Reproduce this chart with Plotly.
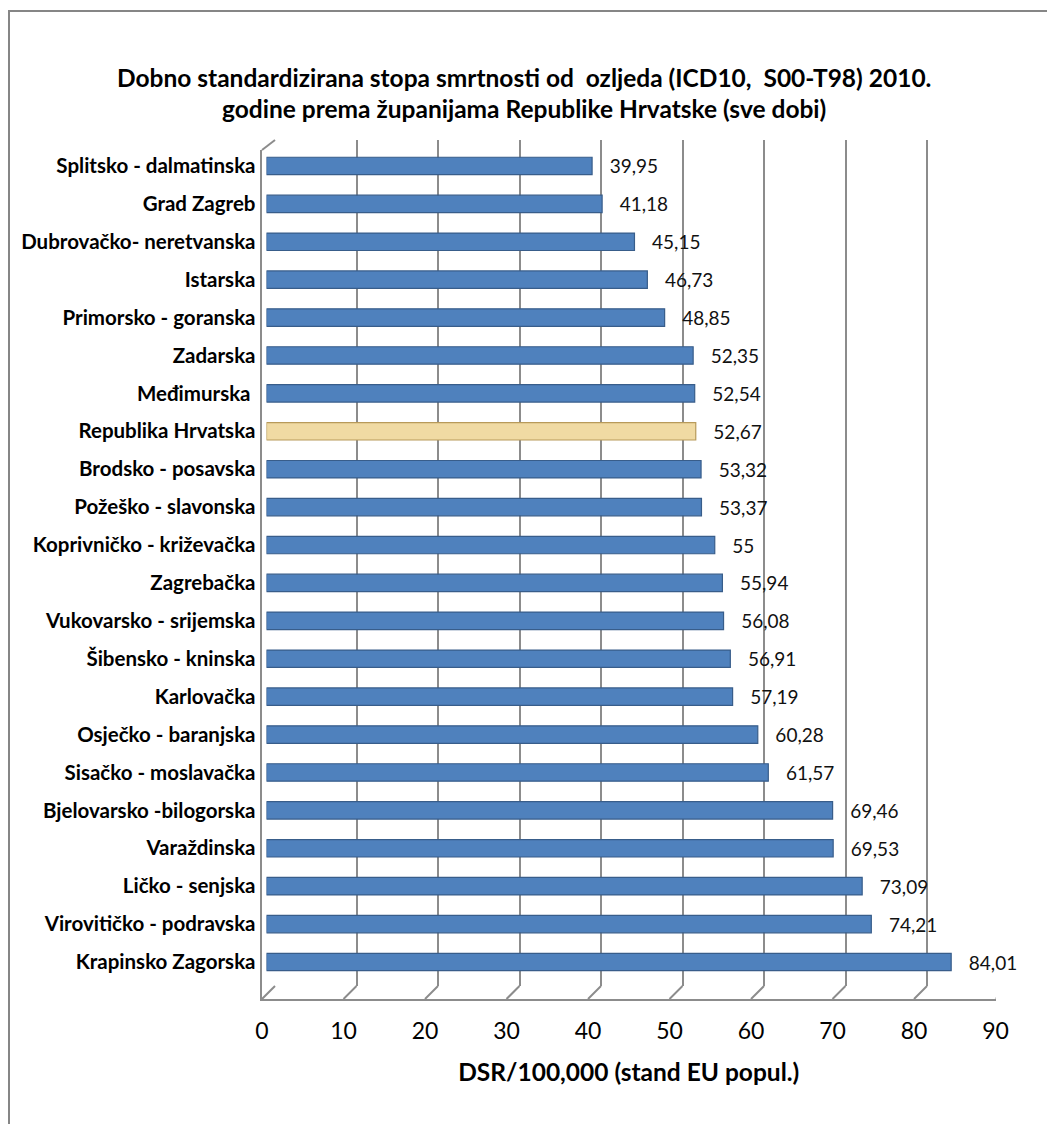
import plotly.graph_objects as go

W, H = 1047, 1124

categories = [
    "Splitsko - dalmatinska", "Grad Zagreb", "Dubrovačko- neretvanska", "Istarska",
    "Primorsko - goranska", "Zadarska", "Međimurska\u00a0", "Republika Hrvatska",
    "Brodsko - posavska", "Požeško - slavonska", "Koprivničko - križevačka", "Zagrebačka",
    "Vukovarsko - srijemska", "Šibensko - kninska", "Karlovačka", "Osječko - baranjska",
    "Sisačko - moslavačka", "Bjelovarsko -bilogorska", "Varaždinska", "Ličko - senjska",
    "Virovitičko - podravska", "Krapinsko Zagorska",
]
values = [39.95, 41.18, 45.15, 46.73, 48.85, 52.35, 52.54, 52.67, 53.32, 53.37, 55,
          55.94, 56.08, 56.91, 57.19, 60.28, 61.57, 69.46, 69.53, 73.09, 74.21, 84.01]
x_ticks = [0, 10, 20, 30, 40, 50, 60, 70, 80, 90]
title_lines = [
    "Dobno standardizirana stopa smrtnosti od  ozljeda (ICD10,  S00-T98) 2010.",
    "godine prema županijama Republike Hrvatske (sve dobi)",
]
x_title = "DSR/100,000 (stand EU popul.)"
highlight = "Republika Hrvatska"

FONT = "Lato"
BLUE, BLUE_EDGE = "#4F81BD", "#385D8A"
TAN, TAN_EDGE = "#F0DAA3", "#B89A5A"
FRAME = "#8C8C8C"

# 3D frame geometry (pixels)
FRONT_L, FRONT_R = 262, 995.5     # front plane: x=0 and x=90
BACK_L, BACK_R = 275, 1008.5      # back wall: x=0 and x=90
FLOOR_FRONT, FLOOR_BACK = 999, 986
WALL_TOP_BACK, WALL_TOP_FRONT = 140, 150


def px(x):
    return x / W


def py(y):
    return 1 - y / H


colors = [TAN if c == highlight else BLUE for c in categories]
edges = [TAN_EDGE if c == highlight else BLUE_EDGE for c in categories]
labels = ["\u00a0\u00a0\u00a0" + format(v, "g").replace(".", ",") for v in values]

fig = go.Figure()
# empty traces so the back-wall and front-frame subplots get drawn
fig.add_trace(go.Scatter(x=[], y=[], xaxis="x", yaxis="y", showlegend=False, hoverinfo="skip"))
fig.add_trace(go.Bar(
    x=values, y=categories, orientation="h",
    xaxis="x2", yaxis="y2",
    marker=dict(color=colors, line=dict(color=edges, width=1.2)),
    width=0.46,
    text=labels, textposition="outside", constraintext="none", cliponaxis=False,
    textfont=dict(family=FONT, size=19, color="#111111"),
    hoverinfo="skip", showlegend=False,
))
fig.add_trace(go.Scatter(x=[], y=[], xaxis="x3", yaxis="y3", showlegend=False, hoverinfo="skip"))

# floor depth connectors at each gridline (front tick -> back tick), in x3 data units
depth_units = (BACK_L - FRONT_L) / ((FRONT_R - FRONT_L) / 90)
shapes = [dict(type="line", xref="x3", yref="paper",
               x0=t, x1=t + depth_units, y0=py(FLOOR_FRONT), y1=py(FLOOR_BACK),
               line=dict(color=FRAME, width=2)) for t in x_ticks]
# left wall top connector
shapes.append(dict(type="line", xref="paper", yref="paper",
                   x0=px(FRONT_L), x1=px(BACK_L), y0=py(WALL_TOP_FRONT), y1=py(WALL_TOP_BACK),
                   line=dict(color=FRAME, width=2)))
# outer chart border (extends past the right/bottom edges)
shapes.append(dict(type="rect", xref="paper", yref="paper",
                   x0=px(9), x1=px(W + 20), y0=py(H + 20), y1=py(11),
                   line=dict(color="#868686", width=2), fillcolor="rgba(0,0,0,0)",
                   layer="below"))

n = len(categories)
fig.update_layout(
    width=W, height=H, autosize=False,
    margin=dict(l=0, r=0, t=0, b=0, pad=0, autoexpand=False),
    paper_bgcolor="white", plot_bgcolor="rgba(0,0,0,0)",
    font=dict(family=FONT, color="black"),
    # back wall: gridlines
    xaxis=dict(domain=[px(BACK_L), px(BACK_R)], range=[0, 90], tickvals=x_ticks,
               showgrid=True, gridcolor=FRAME, gridwidth=2,
               showticklabels=False, zeroline=False, showline=False,
               anchor="y", fixedrange=True, automargin=False),
    yaxis=dict(domain=[py(FLOOR_BACK), py(WALL_TOP_BACK)], range=[0, 1], showgrid=False,
               showticklabels=False, zeroline=False, showline=False,
               anchor="x", fixedrange=True, automargin=False),
    # bars
    xaxis2=dict(domain=[px(266.5), px(1000)], range=[0, 90], showgrid=False,
                showticklabels=False, zeroline=False, showline=False,
                anchor="y2", fixedrange=True, automargin=False),
    yaxis2=dict(domain=[py(FLOOR_FRONT), py(147)], range=[n - 1 + 0.976, -0.5],
                type="category", showgrid=False, zeroline=False, showline=False,
                ticks="", ticklabelstandoff=10, automargin=False,
                tickfont=dict(family=FONT, size=20.5, color="black", weight="bold"),
                anchor="x2", fixedrange=True),
    # front frame + tick labels
    xaxis3=dict(domain=[px(FRONT_L), px(FRONT_R)], range=[0, 90], tickvals=x_ticks,
                showgrid=False, zeroline=False, showline=True,
                linecolor=FRAME, linewidth=2, ticks="",
                ticklabelstandoff=10, automargin=False,
                tickfont=dict(family=FONT, size=23, color="black"),
                title=dict(text=x_title, standoff=21,
                           font=dict(family=FONT, size=24.5, color="black", weight="bold")),
                anchor="y3", fixedrange=True),
    yaxis3=dict(domain=[py(FLOOR_FRONT), py(WALL_TOP_FRONT)], range=[0, 1], showgrid=False,
                showticklabels=False, zeroline=False, showline=True,
                linecolor=FRAME, linewidth=2, automargin=False,
                anchor="x3", fixedrange=True),
    shapes=shapes,
    annotations=[
        dict(text=title_lines[0], x=0.5, y=py(77), xref="paper", yref="paper",
             showarrow=False, xanchor="center", yanchor="middle",
             font=dict(family=FONT, size=24.5, color="black", weight="bold")),
        dict(text=title_lines[1], x=0.5, y=py(108), xref="paper", yref="paper",
             showarrow=False, xanchor="center", yanchor="middle",
             font=dict(family=FONT, size=24.5, color="black", weight="bold")),
    ],
)

fig.write_html("out.html", config={"responsive": False})
